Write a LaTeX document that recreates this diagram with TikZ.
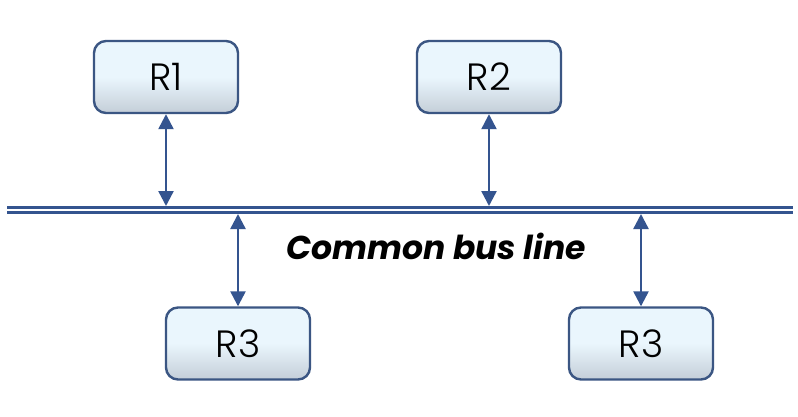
\documentclass[tikz,border=0pt]{standalone}
\usepackage{fontspec}
\setmainfont{Poppins}
\newfontfamily\lightfont{Poppins Light}
\usetikzlibrary{arrows.meta,shadows}
\definecolor{busblue}{HTML}{34548F}
\definecolor{boxedge}{HTML}{3B5683}
\definecolor{boxfill}{HTML}{EAF6FD}
\definecolor{boxbot}{HTML}{C4CED8}
\tikzset{
  rbox/.style={draw=boxedge, line width=2.4pt, rounded corners=12pt,
    minimum width=144pt, minimum height=72pt, inner sep=0pt,
    top color=boxfill, bottom color=boxbot, middle color=boxfill,
    font=\lightfont\fontsize{38}{40}\selectfont, text=black},
  link/.style={draw=busblue, line width=2.4pt, {Triangle[length=15pt,width=15pt]}-{Triangle[length=15pt,width=15pt]}},
  busline/.style={draw=busblue, line width=3pt}
}
\begin{document}
\begin{tikzpicture}[x=1pt,y=1pt]
\useasboundingbox[fill=white] (0,0) rectangle (798,-416);
\node[rbox] (r1) at (166,-77) {R1};
\node[rbox] (r2) at (489,-77) {R2};
\node[rbox] (r3a) at (238,-343.5) {R3};
\node[rbox] (r3b) at (641,-343.5) {R3};
\coordinate (bl1) at (7,-207);
\coordinate (br1) at (793,-207);
\coordinate (bl2) at (7,-212.5);
\coordinate (br2) at (793,-212.5);
\draw[busline] (bl1) -- (br1);
\draw[busline] (bl2) -- (br2);
\coordinate (t1) at (166,-206);
\coordinate (t2) at (489,-206);
\coordinate (t3) at (238,-214);
\coordinate (t4) at (641,-214);
\draw[link] (r1.south) -- (t1);
\draw[link] (r2.south) -- (t2);
\draw[link] (t3) -- (r3a.north);
\draw[link] (t4) -- (r3b.north);
\node[font=\fontsize{33}{36}\selectfont\bfseries\itshape, inner sep=0pt] (bus) at (436,-246) {Common bus line};
\end{tikzpicture}
\end{document}
